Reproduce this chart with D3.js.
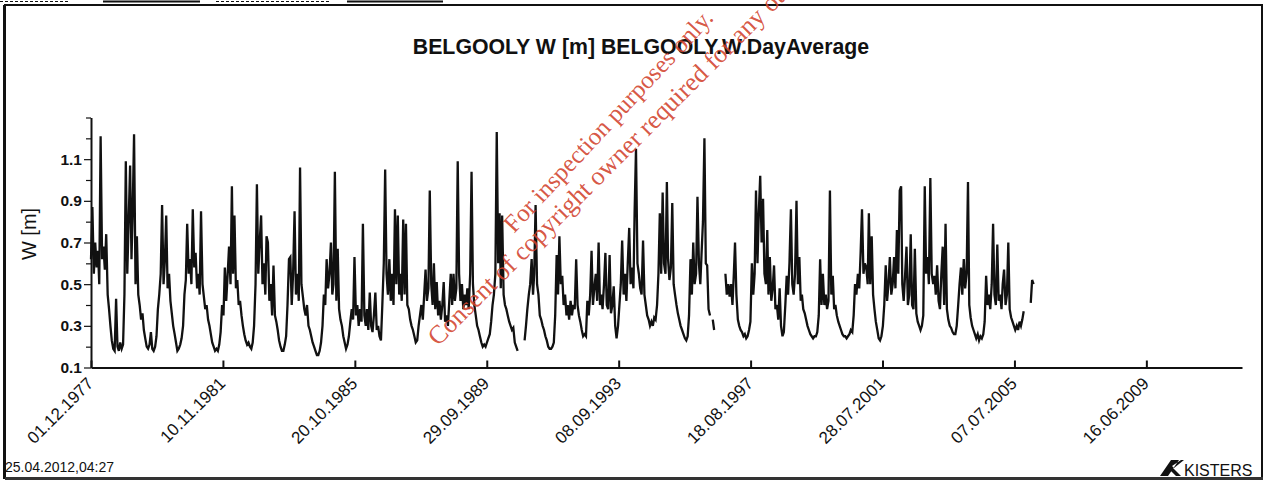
<!DOCTYPE html>
<html><head><meta charset="utf-8">
<script src="https://cdn.jsdelivr.net/npm/d3@7"></script>
<style>body{margin:0;background:#fff;overflow:hidden}svg{display:block}</style>
</head><body>
<svg id="c" width="1268" height="481"></svg>
<script>
// ---------- text & ticks ----------
const chartTitle = "BELGOOLY W [m] BELGOOLY.W.DayAverage";
const yAxisLabel = "W [m]";
const xTickLabels = ["01.12.1977","10.11.1981","20.10.1985","29.09.1989","08.09.1993","18.08.1997","28.07.2001","07.07.2005","16.06.2009"];
const yTickValues = [0.1, 0.3, 0.5, 0.7, 0.9, 1.1];
const yMinorValues = [0.2, 0.4, 0.6, 0.8, 1.0, 1.2, 1.3];
const xDomain = ["01.12.1977", "25.04.2012"];
const yDomain = [0.1, 1.3];
const seriesStart = "01.12.1977";   // values are on the 1st and 16th of each month
const printStamp = "25.04.2012,04:27";
const watermark = ["For inspection purposes only.", "Consent of copyright owner required for any other use."];

// ---------- water level W [m], half-monthly readings ----------
const w1977 = [0.62,0.87];
const w1978 = [0.55,0.70,0.58,0.66,0.50,1.21,0.62,0.68,0.57,0.74,0.45,0.38,0.30,0.23,0.19,0.18,0.43,0.20,0.18,0.22,0.19,0.21,0.45,1.09];
const w1979 = [0.55,0.80,1.07,0.62,0.85,1.22,0.50,0.73,0.45,0.40,0.33,0.36,0.28,0.24,0.20,0.19,0.21,0.27,0.19,0.18,0.20,0.25,0.38,0.45];
const w1980 = [0.55,0.88,0.50,0.62,0.83,0.48,0.55,0.42,0.36,0.30,0.26,0.22,0.18,0.19,0.21,0.24,0.30,0.45,0.52,0.79,0.55,0.62,0.50,0.86];
const w1981 = [0.58,0.65,0.48,0.55,0.45,0.85,0.50,0.44,0.38,0.40,0.33,0.30,0.26,0.22,0.20,0.18,0.19,0.18,0.21,0.27,0.40,0.35,0.58,0.42];
const w1982 = [0.55,0.68,0.50,0.97,0.55,0.83,0.48,0.52,0.40,0.42,0.35,0.30,0.26,0.23,0.21,0.22,0.20,0.19,0.22,0.30,0.50,0.98,0.55,0.70];
const w1983 = [0.83,0.50,0.60,0.45,0.73,0.70,0.42,0.50,0.35,0.59,0.35,0.32,0.28,0.23,0.20,0.18,0.18,0.21,0.25,0.40,0.62,0.63,0.40,0.55];
const w1984 = [0.85,0.45,0.55,0.42,1.06,0.50,0.44,0.38,0.35,0.40,0.30,0.28,0.25,0.22,0.20,0.18,0.16,0.16,0.18,0.22,0.30,0.45,0.40,0.62];
const w1985 = [0.48,0.55,0.70,0.45,0.50,1.04,0.42,0.67,0.38,0.33,0.30,0.25,0.22,0.19,0.21,0.25,0.32,0.38,0.33,0.63,0.35,0.40,0.30,0.38];
const w1986 = [0.32,0.79,0.35,0.30,0.38,0.28,0.46,0.30,0.27,0.35,0.46,0.28,0.30,0.25,0.23,0.40,0.60,1.05,0.55,0.45,0.62,0.42,0.55,0.40];
const w1987 = [0.86,0.50,0.83,0.45,0.55,0.42,0.81,0.45,0.79,0.40,0.38,0.33,0.30,0.28,0.25,0.22,0.23,0.30,0.35,0.40,0.33,0.45,0.57,0.42];
const w1988 = [0.48,0.95,0.50,0.40,0.60,0.38,0.51,0.35,0.42,0.33,0.40,0.51,0.32,0.35,0.30,0.42,0.55,0.40,0.55,0.42,0.48,1.09,0.55,0.42];
const w1989 = [0.50,0.38,0.45,0.40,0.48,0.38,0.55,1.04,0.50,0.40,0.35,0.30,0.28,0.25,0.22,0.20,0.21,0.20,0.22,0.24,0.26,0.32,0.40,0.45];
const w1990 = [0.55,1.23,0.60,0.84,0.48,0.83,0.45,0.40,0.38,0.35,0.32,0.30,0.28,0.29,0.22,0.20,0.18,null,null,null,null,0.23,0.30,0.38];
const w1991 = [0.45,0.50,0.62,0.45,0.55,0.88,0.50,0.45,0.35,0.33,0.30,0.28,0.25,0.23,0.20,0.19,0.19,0.20,0.22,0.35,0.64,0.45,0.73,0.50];
const w1992 = [0.54,0.40,0.45,0.35,0.40,0.33,0.42,0.35,0.40,0.38,0.62,0.40,0.35,0.32,0.28,0.25,0.26,0.25,0.42,0.35,0.45,0.66,0.40,0.48];
const w1993 = [0.55,0.42,0.70,0.40,0.45,0.38,0.50,0.65,0.40,0.38,0.64,0.36,0.40,0.49,0.30,0.24,0.30,0.40,0.50,0.71,0.45,0.55,0.42,0.60];
const w1994 = [0.77,0.50,0.58,0.48,0.85,1.15,0.60,0.55,0.48,0.45,0.71,0.45,0.40,0.35,0.33,0.30,0.32,0.30,0.34,0.33,0.40,0.55,0.84,0.55];
const w1995 = [0.94,0.60,0.55,0.99,0.62,0.52,0.58,0.89,0.50,0.45,0.40,0.36,0.33,0.30,0.28,0.26,0.24,0.23,0.25,0.35,0.62,0.45,0.70,0.50];
const w1996 = [0.55,0.92,0.60,0.50,0.65,0.80,1.20,0.60,0.59,0.38,0.35,null,0.33,0.28,null,null,null,null,null,null,null,0.55,0.45,0.50];
const w1997 = [0.44,0.50,0.40,0.55,0.70,0.45,0.33,0.30,0.28,0.27,0.25,0.26,0.24,0.25,0.28,0.32,0.60,0.45,0.55,0.95,0.60,0.85,1.02,0.70];
const w1998 = [0.91,0.55,0.50,0.76,0.45,0.63,0.42,0.48,0.59,0.38,0.40,0.33,0.48,0.30,0.25,0.27,0.40,0.54,0.45,0.60,0.86,0.50,0.45,0.55];
const w1999 = [0.90,0.50,0.63,0.42,0.45,0.38,0.36,0.33,0.30,0.28,0.26,0.25,0.24,0.25,0.25,0.27,0.35,0.62,0.40,0.55,0.40,0.45,0.38,0.42];
const w2000 = [0.95,0.45,0.54,0.38,0.40,0.35,0.32,0.30,0.28,0.26,0.25,0.25,0.24,0.25,0.26,0.28,0.27,0.35,0.50,0.45,0.55,0.48,0.65,0.86];
const w2001 = [0.55,0.60,0.58,0.50,0.84,0.50,0.73,0.45,0.38,0.32,0.28,0.24,0.23,0.25,0.30,0.40,0.59,0.42,0.50,0.63,0.45,0.50,0.63,0.48];
const w2002 = [0.76,0.55,0.95,0.97,0.50,0.42,0.55,0.68,0.40,0.45,0.74,0.40,0.38,0.67,0.36,0.32,0.30,0.28,0.30,0.35,0.97,0.55,0.63,0.50];
const w2003 = [1.01,0.55,0.50,0.54,0.45,0.59,0.42,0.38,0.55,0.68,0.40,0.79,0.38,0.33,0.30,0.29,0.27,0.26,0.26,0.30,0.40,0.50,0.58,0.45];
const w2004 = [0.62,0.48,0.55,0.99,0.40,0.34,0.30,0.28,0.26,0.24,0.26,0.23,0.25,0.24,0.26,0.32,0.54,0.40,0.45,0.38,0.50,0.79,0.45,0.40];
const w2005 = [0.69,0.42,0.45,0.38,0.50,0.57,0.40,0.45,0.70,0.38,0.34,0.32,0.30,0.28,0.30,0.28,0.32,0.30,0.33,0.37,null,null,null,null];
const w2006 = [0.41,0.52,0.50];

const levels = [].concat(w1977,w1978,w1979,w1980,w1981,w1982,w1983,w1984,w1985,w1986,w1987,w1988,w1989,w1990,
  w1991,w1992,w1993,w1994,w1995,w1996,w1997,w1998,w1999,w2000,w2001,w2002,w2003,w2004,w2005,w2006);

// ---------- drawing ----------
const parse = d3.timeParse("%d.%m.%Y");
const fmt = d3.timeFormat("%d.%m.%Y");
const start = parse(seriesStart);
const data = levels.map((v, i) => ({
  t: new Date(start.getFullYear(), start.getMonth() + Math.floor(i / 2), i % 2 ? 16 : 1),
  v: v
}));

const svg = d3.select("#c");
const FONT = "'Liberation Sans', Arial, sans-serif";

const x = d3.scaleTime().domain(xDomain.map(parse)).range([91, 1242]);
const y = d3.scaleLinear().domain(yDomain).range([367.5, 117.5]);

// frame
svg.append("rect").attr("x", 5).attr("y", 5).attr("width", 1257).attr("height", 473)
  .attr("fill", "none").attr("stroke", "#111").attr("stroke-width", 2);
svg.append("line").attr("x1", 4.5).attr("x2", 4.5).attr("y1", 5).attr("y2", 479).attr("stroke", "#111").attr("stroke-width", 3);
svg.append("line").attr("x1", 5).attr("x2", 1263).attr("y1", 478.5).attr("y2", 478.5).attr("stroke", "#333").attr("stroke-width", 3);
// underline fragments of the cropped scan header
[[103, 200], [347, 443], [0, 70], [216, 330]].forEach(([a, b], i) =>
  svg.append("line").attr("x1", a).attr("x2", b).attr("y1", 1.5).attr("y2", 1.5)
    .attr("stroke", "#111").attr("stroke-width", i < 2 ? 2 : 1).attr("stroke-dasharray", i < 2 ? null : "3,2"));

// title
svg.append("text").attr("x", 641).attr("y", 54).attr("text-anchor", "middle")
  .attr("font-family", FONT).attr("font-size", 21.3).attr("font-weight", "bold").attr("fill", "#111")
  .text(chartTitle);

// y label
svg.append("text").attr("transform", "translate(36,234) rotate(-90)").attr("text-anchor", "middle")
  .attr("font-family", FONT).attr("font-size", 20).attr("fill", "#111").text(yAxisLabel);

// series line
const line = d3.line().defined(d => d.v != null).x(d => x(d.t)).y(d => y(d.v));
svg.append("path").datum(data).attr("d", line).attr("fill", "none")
  .attr("stroke", "#111").attr("stroke-width", 2.3).attr("stroke-linejoin", "miter");

// y axis (minor then major)
svg.append("g").attr("transform", "translate(91,0)")
  .call(d3.axisLeft(y).tickValues(yMinorValues).tickSize(5).tickFormat(""))
  .call(g => g.select(".domain").remove())
  .selectAll("line").attr("stroke", "#111").attr("stroke-width", 1.2);
const yAx = svg.append("g").attr("transform", "translate(91,0)")
  .call(d3.axisLeft(y).tickValues(yTickValues).tickSize(7).tickSizeOuter(0).tickPadding(2).tickFormat(d3.format(".1f")));
yAx.select(".domain").attr("stroke", "#111").attr("stroke-width", 2);
yAx.selectAll("line").attr("stroke", "#111").attr("stroke-width", 1.2);
yAx.selectAll("text").attr("font-family", FONT).attr("font-size", 15.5).attr("font-weight", "bold").attr("fill", "#111");

// x axis
const xAx = svg.append("g").attr("transform", "translate(0," + y(yDomain[0]) + ")")
  .call(d3.axisBottom(x).tickValues(xTickLabels.map(parse)).tickSizeInner(-7).tickSizeOuter(0).tickFormat(fmt));
xAx.select(".domain").attr("stroke", "#111").attr("stroke-width", 2);
xAx.selectAll("line").attr("stroke", "#111").attr("stroke-width", 2);
xAx.selectAll("text").attr("font-family", FONT).attr("font-size", 17).attr("fill", "#111")
  .attr("text-anchor", "end").attr("y", 0).attr("dy", 0)
  .attr("transform", "translate(3,17) rotate(-45)");

// print stamp
svg.append("text").attr("x", 5).attr("y", 472).attr("font-family", FONT).attr("font-size", 14)
  .attr("letter-spacing", 0).attr("fill", "#111").text(printStamp);

// KISTERS logo
svg.append("path").attr("d", "M1160,476 L1168,476 L1179,460 L1171,460 Z M1170,470 L1176,476 L1181,476 L1173,468 Z M1172,466 L1181,460 L1184,460 L1174,468 Z")
  .attr("fill", "#111");
svg.append("text").attr("x", 1184).attr("y", 476).attr("font-family", FONT).attr("font-size", 16)
  .attr("fill", "#111").text("KISTERS");

// watermark
const wm = svg.append("g").attr("font-family", "'Liberation Serif', 'Times New Roman', serif")
  .attr("fill", "#d2432e").attr("fill-opacity", 0.9);
wm.append("text").attr("font-size", 25).attr("transform", "translate(514,234) rotate(-47)").text(watermark[0]);
wm.append("text").attr("font-size", 26).attr("transform", "translate(438,347) rotate(-45)").text(watermark[1]);
</script>
</body></html>
